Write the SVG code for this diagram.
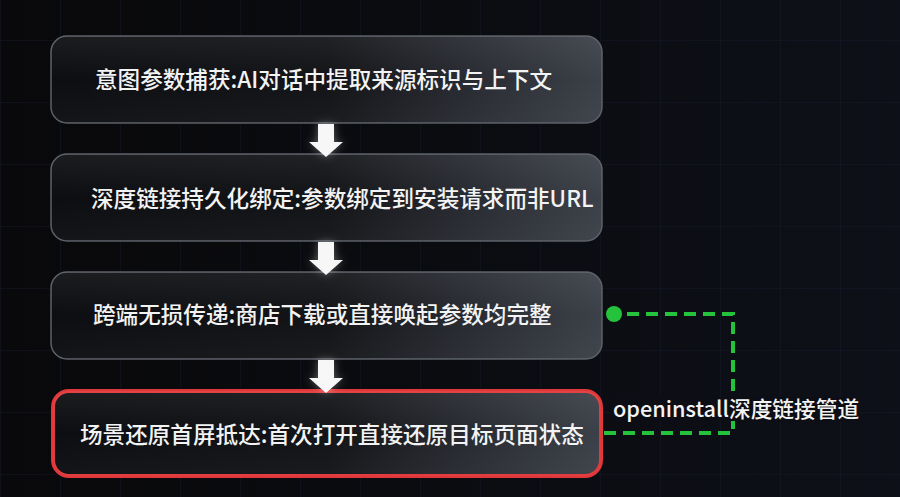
<svg xmlns="http://www.w3.org/2000/svg" width="900" height="497" viewBox="0 0 900 497">
  <defs>
    <linearGradient id="bg" x1="0" y1="0" x2="1" y2="0">
      <stop offset="0" stop-color="#09090b"/>
      <stop offset="0.5" stop-color="#0b0c10"/>
      <stop offset="1" stop-color="#0e1019"/>
    </linearGradient>
    <linearGradient id="boxfill" x1="0" y1="0" x2="1" y2="0">
      <stop offset="0" stop-color="#0d0e11"/>
      <stop offset="0.5" stop-color="#131417"/>
      <stop offset="0.68" stop-color="#22242a"/>
      <stop offset="1" stop-color="#3c4048"/>
    </linearGradient>
    <linearGradient id="boxshine" x1="0" y1="0" x2="0" y2="1">
      <stop offset="0" stop-color="#ffffff" stop-opacity="0.06"/>
      <stop offset="0.5" stop-color="#ffffff" stop-opacity="0"/>
      <stop offset="1" stop-color="#ffffff" stop-opacity="0.03"/>
    </linearGradient>
    <pattern id="grid" width="60" height="62" patternUnits="userSpaceOnUse" x="0" y="40">
      <path d="M 0 0 H 60 M 0 0 V 62" fill="none" stroke="#1a2238" stroke-width="1" stroke-opacity="0.55"/>
    </pattern>
    <filter id="glow" x="-50%" y="-50%" width="200%" height="200%">
      <feGaussianBlur in="SourceAlpha" stdDeviation="4" result="b"/>
      <feFlood flood-color="#ffffff" flood-opacity="0.35"/>
      <feComposite in2="b" operator="in" result="g"/>
      <feMerge><feMergeNode in="g"/><feMergeNode in="SourceGraphic"/></feMerge>
    </filter>
  </defs>
  <style>
    .box { fill: url(#boxfill); stroke: #5b5f67; stroke-width: 1.5; }
    .shine { fill: url(#boxshine); stroke: none; }
    .hl { fill: url(#boxfill); stroke: #e0383a; stroke-width: 4; }
    .t { font-family: "Noto Sans CJK SC", "Noto Sans", sans-serif; font-size: 22.6px; font-weight: 500; fill: #f3f3f3; }
    .lbl { font-family: "Noto Sans CJK SC", "Noto Sans", sans-serif; font-size: 21.7px; font-weight: 500; fill: #f3f3f3; }
    .arrow { fill: #f7f7f7; filter: url(#glow); }
    .dash { fill: none; stroke: #25c23c; stroke-width: 4; stroke-dasharray: 12 7; }
  </style>

  <rect width="900" height="497" fill="url(#bg)"/>
  <rect width="900" height="497" fill="url(#grid)"/>

  <g id="node1">
    <rect class="box" x="51" y="36" width="551" height="87" rx="16"/>
    <rect class="shine" x="51" y="36" width="551" height="87" rx="16"/>
    <text class="t" x="95" y="88">意图参数捕获:AI对话中提取来源标识与上下文</text>
  </g>
  <g id="node2">
    <rect class="box" x="51" y="154" width="551" height="87" rx="16"/>
    <rect class="shine" x="51" y="154" width="551" height="87" rx="16"/>
    <text class="t" x="91" y="207">深度链接持久化绑定:参数绑定到安装请求而非URL</text>
  </g>
  <g id="node3">
    <rect class="box" x="51" y="272" width="551" height="87" rx="16"/>
    <rect class="shine" x="51" y="272" width="551" height="87" rx="16"/>
    <text class="t" x="93" y="323">跨端无损传递:商店下载或直接唤起参数均完整</text>
  </g>
  <g id="node4">
    <rect class="hl" x="53" y="391" width="548" height="85" rx="16"/>
    <rect class="shine" x="53" y="391" width="548" height="85" rx="16"/>
    <text class="t" x="80" y="443">场景还原首屏抵达:首次打开直接还原目标页面状态</text>
  </g>

  <g id="connectors">
    <path class="arrow" d="M 318 124 H 334 V 142 H 343 L 326 157 L 309 142 H 318 Z"/>
    <path class="arrow" d="M 318 242 H 334 V 260 H 343 L 326 275 L 309 260 H 318 Z"/>
    <path class="arrow" d="M 318 360 H 334 V 378 H 343 L 326 393 L 309 378 H 318 Z"/>
    <path class="dash" d="M 627 314 H 733 V 433 H 604"/>
    <circle cx="614" cy="314" r="8" fill="#25c23c"/>
    <rect x="611" y="397" width="248" height="24" fill="#0d0e15"/>
    <text class="lbl" x="613" y="417">openinstall深度链接管道</text>
  </g>
</svg>
